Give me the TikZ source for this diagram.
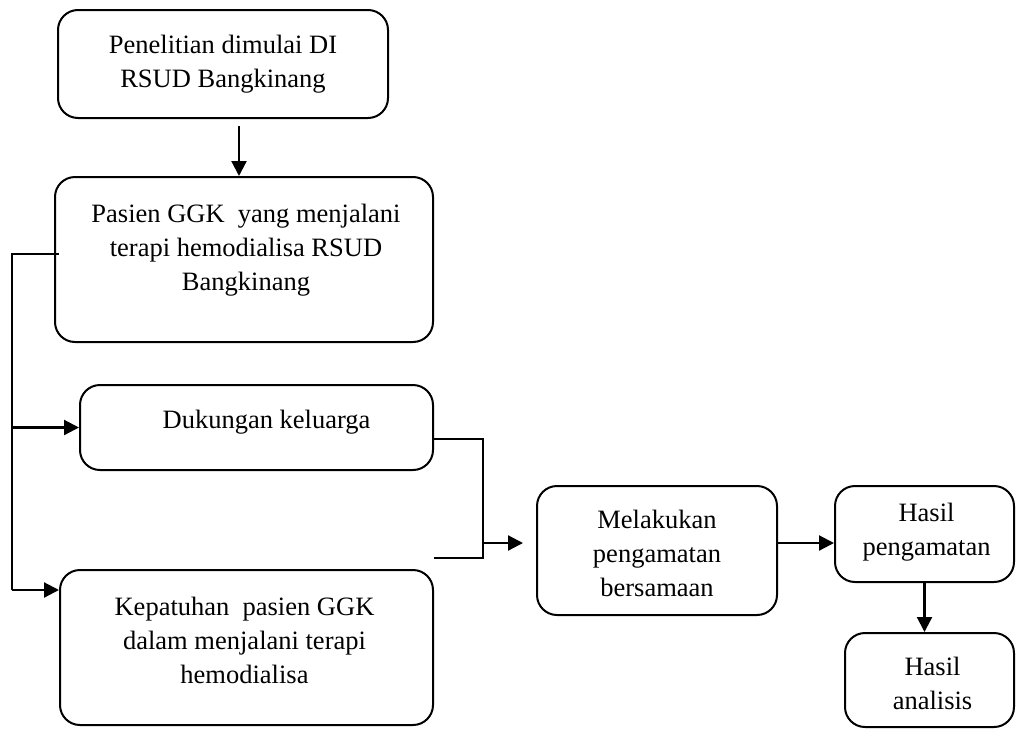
\documentclass[tikz,border=0pt]{standalone}
\usepackage{fontspec}
\setmainfont{Liberation Serif}
\usetikzlibrary{arrows.meta}
\begin{document}
\begin{tikzpicture}[x=1pt,y=-1pt,
  box/.style={draw, line width=2pt, rounded corners=20pt, inner sep=0pt},
  txt/.style={align=center, inner sep=0pt, font=\fontsize{26.5}{34}\selectfont},
  arr/.style={line width=2.2pt, -{Triangle[length=15pt,width=15pt]}},
  ln/.style={line width=2pt}]
\useasboundingbox (0,0) rectangle (1016,728);
\node[box, minimum width=330pt, minimum height=108pt,
  label={[txt,yshift=0pt]center:Penelitian dimulai DI\\RSUD Bangkinang}] (b1) at (223,64) {};
\node[box, minimum width=378pt, minimum height=165pt,
  label={[txt,yshift=9.5pt,xshift=2pt]center:Pasien GGK~ yang menjalani\\terapi hemodialisa RSUD\\Bangkinang}] (b2) at (244,259.5) {};
\node[box, minimum width=353pt, minimum height=85pt,
  label={[txt,yshift=5.5pt,xshift=10pt]center:Dukungan keluarga}] (b3) at (256.5,427.5) {};
\node[box, minimum width=373pt, minimum height=155pt,
  label={[txt,yshift=7pt,xshift=-2pt]center:Kepatuhan~ pasien GGK\\dalam menjalani terapi\\hemodialisa}] (b4) at (246.5,647.5) {};
\node[box, minimum width=240pt, minimum height=129pt,
  label={[txt,yshift=-3pt]center:Melakukan\\pengamatan\\bersamaan}] (b5) at (657,550.5) {};
\node[box, minimum width=179pt, minimum height=96pt,
  label={[txt,yshift=2pt,xshift=2pt]center:Hasil\\pengamatan}] (b6) at (924.5,534) {};
\node[box, minimum width=169pt, minimum height=94pt,
  label={[txt,yshift=-3pt,xshift=3pt]center:Hasil\\analisis}] (b7) at (929.5,680) {};
% arrow box1 -> box2
\coordinate (a1) at (239,126);
\draw[arr] (a1) -- (a1 |- b2.north);
% left bus
\coordinate (L1) at (12,254);
\coordinate (L2) at (12,590);
\draw[ln] ([xshift=5pt]b2.west |- L1) -- (L1) -- (L2);
\draw[arr] (L1 |- b3.west) -- (b3.west);
\draw[arr] (L2) -- (L2 -| b4.west);
% right bus
\coordinate (R1) at (483,439);
\coordinate (R2) at (483,558);
\coordinate (R3) at (483,543);
\coordinate (R4) at (523,543);
\draw[ln] (b3.east |- R1) -- (R1) -- (R2) -- (b4.east |- R2);
\draw[arr] (R3) -- (R4);
\draw[arr] (b5.east |- R3) -- (b6.west |- R3);
\draw[arr] (b6.south) -- (b6.south |- b7.north);
\end{tikzpicture}
\end{document}
